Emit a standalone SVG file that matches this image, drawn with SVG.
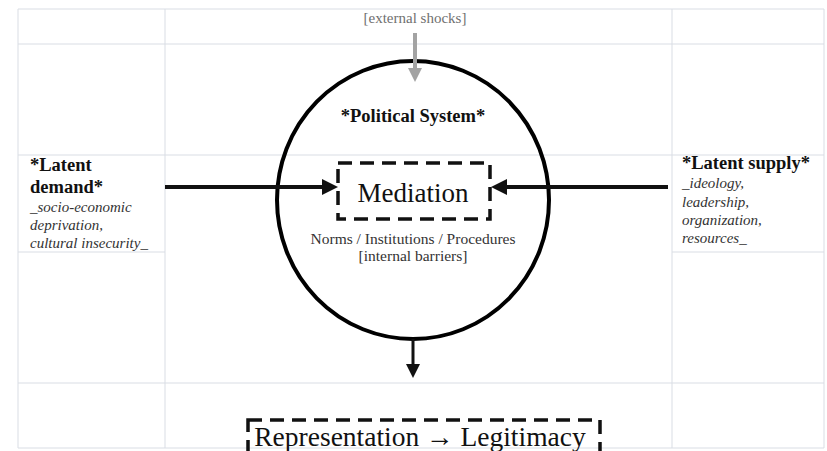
<svg xmlns="http://www.w3.org/2000/svg" width="827" height="451" viewBox="0 0 827 451">
<defs>
<style>
.grid{stroke:#d9dde4;stroke-width:1;fill:none}
.serif{font-family:"Liberation Serif","Times New Roman",serif}
.bold{font-weight:bold;fill:#111;font-size:18.5px}
.ital{font-style:italic;fill:#333;font-size:15px}
.dash{fill:none;stroke:#111;stroke-width:3.5;stroke-dasharray:14 8}
.conn{stroke:#111;fill:none}
</style>
<marker id="ah" markerUnits="userSpaceOnUse" markerWidth="18" markerHeight="18" refX="6" refY="8" orient="auto">
<path d="M0,0 L16,8 L0,16 z" fill="#111"/>
</marker>
<marker id="ahs" markerUnits="userSpaceOnUse" markerWidth="16" markerHeight="16" refX="5" refY="7" orient="auto">
<path d="M0,0 L14,7 L0,14 z" fill="#111"/>
</marker>
<marker id="ahg" markerUnits="userSpaceOnUse" markerWidth="16" markerHeight="16" refX="5" refY="7" orient="auto">
<path d="M0,0 L14,7 L0,14 z" fill="#a3a3a3"/>
</marker>
</defs>
<rect width="827" height="451" fill="#fff"/>
<g id="grid" class="grid">
<line x1="18" y1="9" x2="824" y2="9"/>
<line x1="18" y1="44" x2="824" y2="44"/>
<line x1="18" y1="155" x2="824" y2="155"/>
<line x1="18" y1="252" x2="165" y2="252"/>
<line x1="672" y1="252" x2="824" y2="252"/>
<line x1="18" y1="383" x2="824" y2="383"/>
<line x1="18" y1="448" x2="824" y2="448"/>
<line x1="18" y1="9" x2="18" y2="448"/>
<line x1="165" y1="9" x2="165" y2="448"/>
<line x1="672" y1="9" x2="672" y2="448"/>
<line x1="824" y1="9" x2="824" y2="448"/>
</g>
<g id="external-shocks">
<text class="serif" x="415" y="23" font-size="15" fill="#707070" text-anchor="middle">[external shocks]</text>
</g>
<g id="political-system">
<ellipse cx="413" cy="200" rx="136" ry="139" fill="none" stroke="#000" stroke-width="4"/>
<text class="serif bold" x="413" y="122" text-anchor="middle">*Political System*</text>
<text class="serif" x="413" y="244" font-size="15.5" fill="#333" text-anchor="middle">Norms / Institutions  / Procedures</text>
<text class="serif" x="413" y="261" font-size="15.5" fill="#333" text-anchor="middle">[internal barriers]</text>
</g>
<g id="mediation">
<rect class="dash" x="338" y="163" width="152" height="56"/>
<text class="serif" x="413" y="202" font-size="27" fill="#111" text-anchor="middle">Mediation</text>
</g>
<g id="latent-demand">
<text class="serif bold" x="30" y="171">*Latent</text>
<text class="serif bold" x="30" y="193">demand*</text>
<text class="serif ital" x="30" y="212">_socio-economic</text>
<text class="serif ital" x="30" y="230">deprivation,</text>
<text class="serif ital" x="30" y="248">cultural insecurity_</text>
</g>
<g id="latent-supply">
<text class="serif bold" x="682" y="169">*Latent supply*</text>
<text class="serif ital" x="682" y="188">_ideology,</text>
<text class="serif ital" x="682" y="207">leadership,</text>
<text class="serif ital" x="682" y="225">organization,</text>
<text class="serif ital" x="682" y="243">resources_</text>
</g>
<g id="representation">
<rect class="dash" x="248" y="420" width="352" height="50"/>
<text class="serif" x="420" y="446" font-size="27.5" fill="#111" text-anchor="middle">Representation → Legitimacy</text>
</g>
<g id="connectors">
<line class="conn" x1="165" y1="187" x2="328" y2="187" stroke-width="4" marker-end="url(#ah)"/>
<line class="conn" x1="668" y1="187" x2="501" y2="187" stroke-width="4" marker-end="url(#ah)"/>
<line class="conn" x1="413" y1="339" x2="413" y2="369" stroke-width="3" marker-end="url(#ahs)"/>
<line x1="415" y1="33" x2="415" y2="73" stroke="#a3a3a3" stroke-width="4" marker-end="url(#ahg)"/>
</g>
</svg>
